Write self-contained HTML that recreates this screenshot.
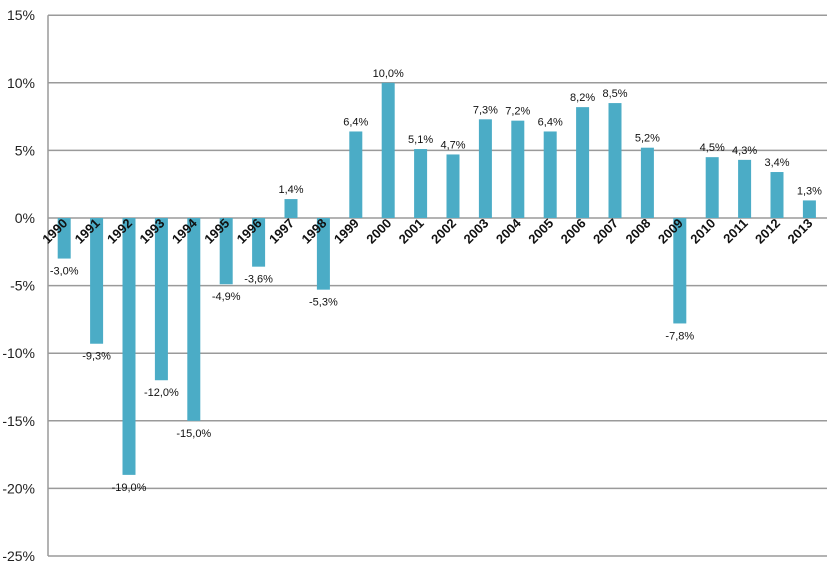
<!DOCTYPE html>
<html><head><meta charset="utf-8"><style>
body{margin:0;background:#fff}
svg text{font-family:"Liberation Sans",sans-serif}
</style></head><body>
<svg id="c" width="833" height="570"></svg>
<script>
const years=["1990","1991","1992","1993","1994","1995","1996","1997","1998","1999","2000","2001","2002","2003","2004","2005","2006","2007","2008","2009","2010","2011","2012","2013"];
const values=[-3.0,-9.3,-19.0,-12.0,-15.0,-4.9,-3.6,1.4,-5.3,6.4,10.0,5.1,4.7,7.3,7.2,6.4,8.2,8.5,5.2,-7.8,4.5,4.3,3.4,1.3];
const ticks=[15,10,5,0,-5,-10,-15,-20,-25];
const NS="http://www.w3.org/2000/svg";
const svg=document.getElementById('c');
const x0=48,step=32.4,bw=13;
function y(v){return 218-v*13.52;}
function xc(i){return x0+step*(i+0.5);}
function mk(t,a,p){const e=document.createElementNS(NS,t);for(const k in a)e.setAttribute(k,a[k]);(p||svg).appendChild(e);return e;}
ticks.forEach(t=>{
 const l=mk('line',{x1:x0,x2:827,y1:y(t),y2:y(t),stroke:'#9a9a9a','stroke-width':1.5});
 
 
 const tx=mk('text',{x:35,y:y(t)+5,'text-anchor':'end','font-size':14,fill:'#222'});
 tx.textContent=t+'%';
 
 
});
const ax=mk('line',{x1:x0,x2:x0,y1:y(15),y2:y(-25),stroke:'#9a9a9a','stroke-width':1.5});


values.forEach((v,i)=>{
 const c=xc(i);
 const top=Math.min(y(v),y(0)),h=Math.abs(y(v)-y(0));
 const r=mk('rect',{x:c-bw/2,y:top,width:bw,height:h,fill:'#4bacc6'});
 
 
 const lab=mk('text',{x:c,y:v>=0?y(v)-6:y(v)+16,'text-anchor':'middle','font-size':11,fill:'#111'});
 lab.textContent=v.toFixed(1).replace('.',',')+'%';
 
 
 const yl=mk('text',{x:c+4,y:224,'text-anchor':'end','font-size':13,'font-weight':'bold',fill:'#111',transform:`rotate(-45 ${c+4} 224)`});
 yl.textContent=years[i];
 
 
});
</script>
</body></html>
